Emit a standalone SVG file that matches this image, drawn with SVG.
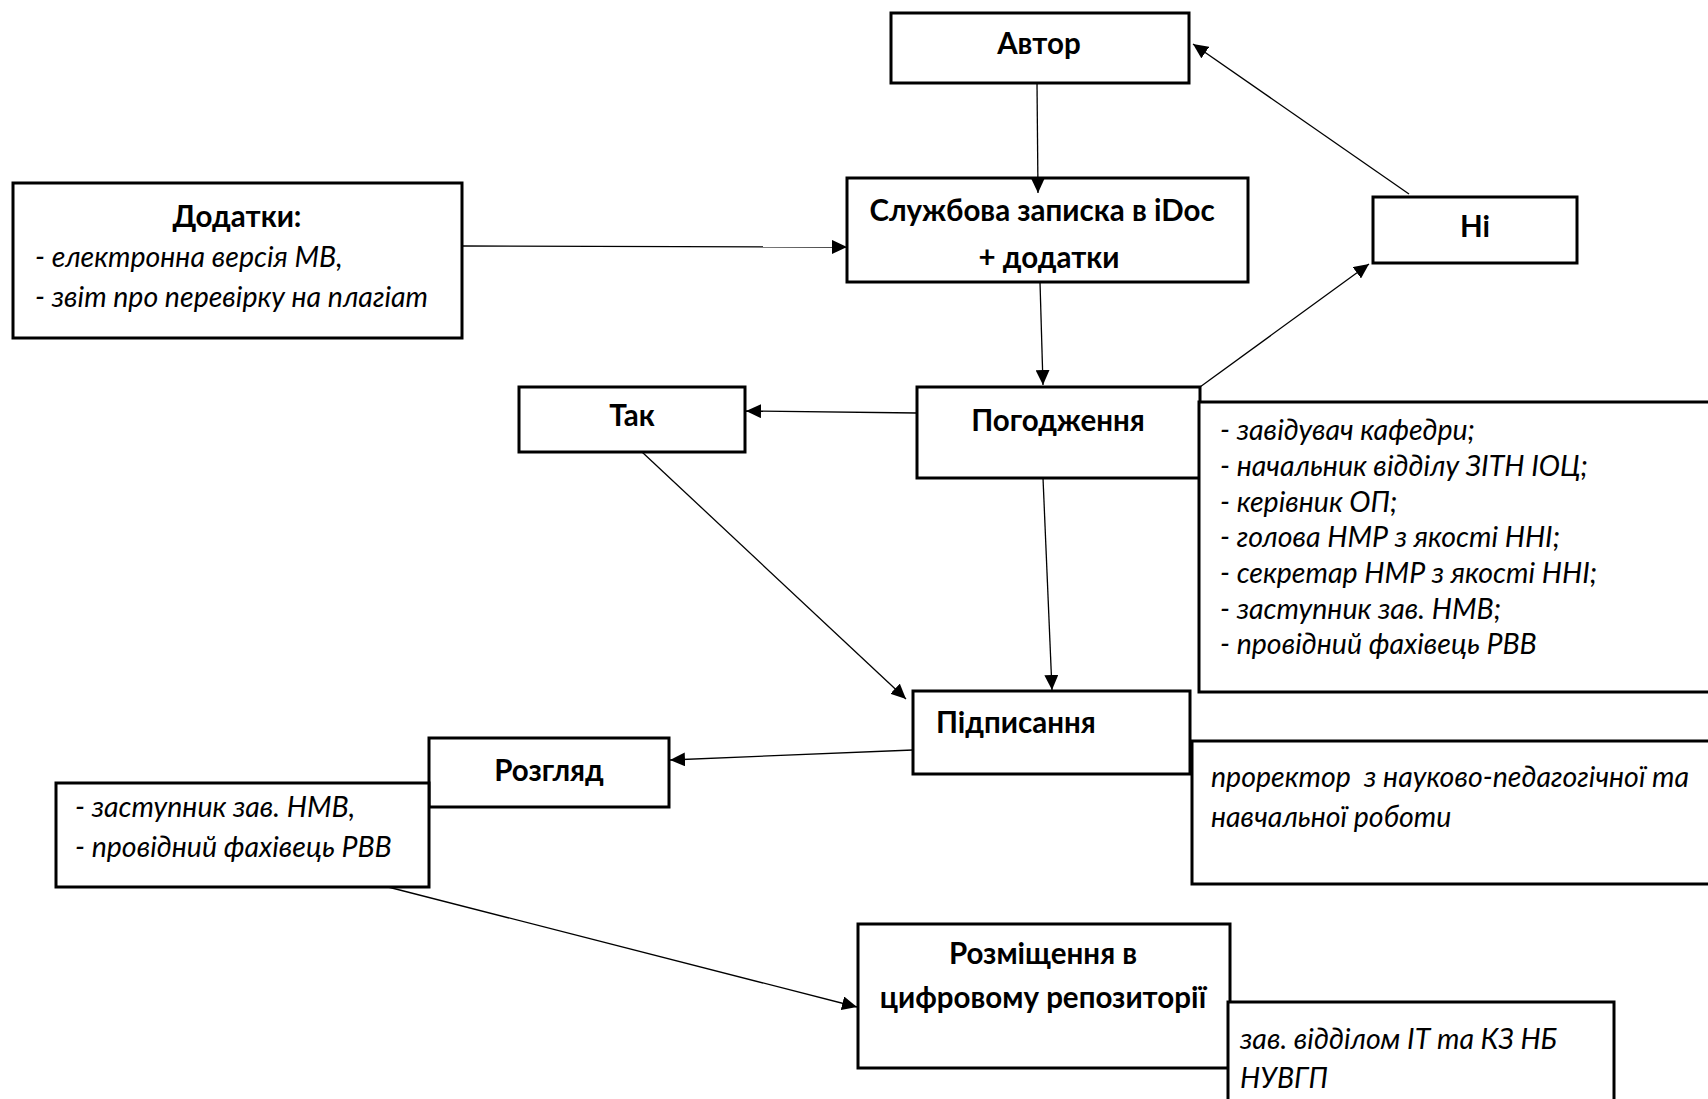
<svg xmlns="http://www.w3.org/2000/svg" width="1708" height="1099" viewBox="0 0 1708 1099">
<defs>
<marker id="ah" markerUnits="userSpaceOnUse" markerWidth="16" markerHeight="14" refX="15" refY="7" orient="auto">
<path d="M0,0 L15,7 L0,14 z" fill="#000"/>
</marker>
<style>
.box{fill:#fff;stroke:#000;stroke-width:3}
.b{font-family:Lato,"Open Sans","Noto Sans",sans-serif;font-weight:bold;font-size:29.5px;fill:#000}
.i{font-family:Lato,"Open Sans","Noto Sans",sans-serif;font-style:italic;font-size:28.5px;fill:#000}
.c{text-anchor:middle}
.ln{stroke:#000;stroke-width:1.3;fill:none;marker-end:url(#ah)}
</style>
</defs>
<rect width="1708" height="1099" fill="#fff"/>

<g id="avtor">
<rect class="box" x="891" y="13" width="298" height="70"/>
<text class="b c" x="1039" y="54">Автор</text>
</g>

<g id="sluzhbova">
<rect class="box" x="847" y="178" width="401" height="104"/>
<text class="b c" x="1042" y="221">Службова записка в iDoc</text>
<text class="b c" x="1049" y="268">+ додатки</text>
</g>

<g id="dodatky">
<rect class="box" x="13" y="183" width="449" height="155"/>
<text class="b c" x="237" y="227">Додатки:</text>
<text class="i" x="35" y="267">- електронна версія МВ,</text>
<text class="i" x="35" y="307">- звіт про перевірку на плагіат</text>
</g>

<g id="ni">
<rect class="box" x="1373" y="197" width="204" height="66"/>
<text class="b c" x="1475" y="237">Ні</text>
</g>

<g id="tak">
<rect class="box" x="519" y="387" width="226" height="65"/>
<text class="b c" x="632" y="426">Так</text>
</g>

<g id="pogodzhennia">
<rect class="box" x="917" y="387" width="283" height="91"/>
<text class="b c" x="1058" y="431">Погодження</text>
</g>

<g id="pogodzhennia-list">
<rect class="box" x="1199" y="402" width="520" height="290"/>
<text class="i" x="1220" y="440">- завідувач кафедри;</text>
<text class="i" x="1220" y="476">- начальник відділу ЗІТН ІОЦ;</text>
<text class="i" x="1220" y="512">- керівник ОП;</text>
<text class="i" x="1220" y="547">- голова НМР з якості ННІ;</text>
<text class="i" x="1220" y="583">- секретар НМР з якості ННІ;</text>
<text class="i" x="1220" y="619">- заступник зав. НМВ;</text>
<text class="i" x="1220" y="654">- провідний фахівець РВВ</text>
</g>

<g id="pidpysannia">
<rect class="box" x="913" y="691" width="277" height="83"/>
<text class="b" x="936" y="733">Підписання</text>
</g>

<g id="prorektor">
<rect class="box" x="1192" y="741" width="530" height="143"/>
<text class="i" x="1211" y="787" xml:space="preserve">проректор  з науково-педагогічної та</text>
<text class="i" x="1211" y="827">навчальної роботи</text>
</g>

<g id="rozghliad">
<rect class="box" x="429" y="738" width="240" height="69"/>
<text class="b c" x="549" y="781">Розгляд</text>
</g>

<g id="rozghliad-list">
<rect class="box" x="56" y="783" width="373" height="104"/>
<text class="i" x="75" y="817">- заступник зав. НМВ,</text>
<text class="i" x="75" y="857">- провідний фахівець РВВ</text>
</g>

<g id="rozmishchennia">
<rect class="box" x="858" y="924" width="372" height="144"/>
<text class="b c" x="1043" y="964">Розміщення в</text>
<text class="b c" x="1043" y="1008">цифровому репозиторії</text>
</g>

<g id="zav">
<rect class="box" x="1228" y="1002" width="386" height="120"/>
<text class="i" x="1240" y="1049">зав. відділом ІТ та КЗ НБ</text>
<text class="i" x="1240" y="1088">НУВГП</text>
</g>

<g id="connectors">
<line class="ln" x1="1037" y1="83" x2="1038" y2="193"/>
<line class="ln" x1="462" y1="246" x2="847" y2="247"/>
<line class="ln" x1="1040" y1="282" x2="1043" y2="385"/>
<line class="ln" x1="1409" y1="194" x2="1193" y2="44"/>
<line class="ln" x1="1200" y1="387" x2="1369" y2="264"/>
<line class="ln" x1="917" y1="413" x2="746" y2="411"/>
<line class="ln" x1="642" y1="452" x2="906" y2="699"/>
<line class="ln" x1="1043" y1="478" x2="1052" y2="690"/>
<line class="ln" x1="913" y1="750" x2="670" y2="760"/>
<line class="ln" x1="388" y1="887" x2="857" y2="1007"/>
</g>
</svg>
